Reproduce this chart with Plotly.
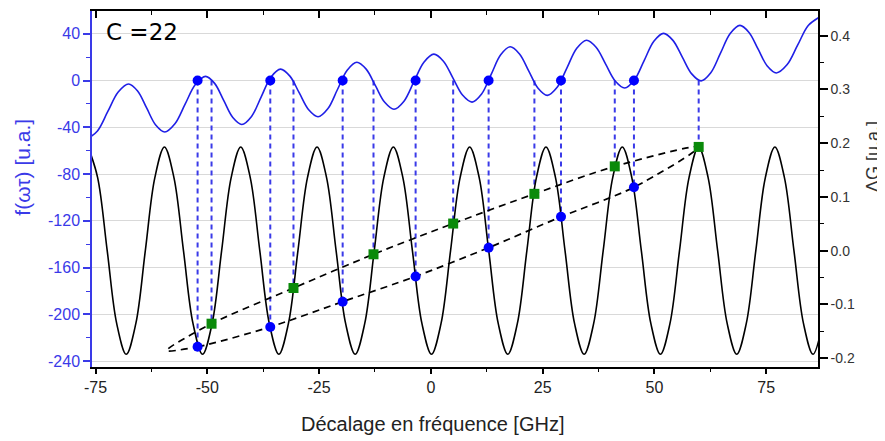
import plotly.graph_objects as go

# ---------------- data ----------------
# Black curve: Delta G (right axis), read at eighth-period positions
dg_x = [-76.67, -74.54, -72.40, -70.27, -68.14, -66.00, -63.87, -61.74,
        -59.60, -57.47, -55.34, -53.20, -51.07, -48.94, -46.80, -44.67,
        -42.53, -40.40, -38.27, -36.13, -34.00, -31.87, -29.73, -27.60,
        -25.46, -23.33, -21.20, -19.06, -16.93, -14.80, -12.66, -10.53,
        -8.39, -6.26, -4.13, -1.99, 0.14, 2.27, 4.41, 6.54,
        8.68, 10.81, 12.94, 15.08, 17.21, 19.34, 21.48, 23.61,
        25.75, 27.88, 30.01, 32.15, 34.28, 36.41, 38.55, 40.68,
        42.82, 44.95, 47.08, 49.22, 51.35, 53.48, 55.62, 57.75,
        59.89, 62.02, 64.15, 66.29, 68.42, 70.55, 72.69, 74.82,
        76.96, 79.09, 81.22, 83.36, 85.49, 87.62]
dg_y = [0.193, 0.136, 0.0, -0.136, -0.193, -0.136, 0.0, 0.136,
        0.193, 0.136, 0.0, -0.136, -0.193, -0.136, 0.0, 0.136,
        0.193, 0.136, 0.0, -0.136, -0.193, -0.136, 0.0, 0.136,
        0.193, 0.136, 0.0, -0.136, -0.193, -0.136, 0.0, 0.136,
        0.193, 0.136, 0.0, -0.136, -0.193, -0.136, 0.0, 0.136,
        0.193, 0.136, 0.0, -0.136, -0.193, -0.136, 0.0, 0.136,
        0.193, 0.136, 0.0, -0.136, -0.193, -0.136, 0.0, 0.136,
        0.193, 0.136, 0.0, -0.136, -0.193, -0.136, 0.0, 0.136,
        0.193, 0.136, 0.0, -0.136, -0.193, -0.136, 0.0, 0.136,
        0.193, 0.136, 0.0, -0.136, -0.193, -0.136]

# Blue curve: f(omega tau) (left axis)
f_x = [-76.90, -74.58, -72.26, -69.94,
       -67.62, -65.60, -63.58, -61.55,
       -59.53, -57.25, -54.97, -52.68,
       -50.40, -48.37, -46.34, -44.30,
       -42.27, -40.11, -37.95, -35.79,
       -33.63, -31.53, -29.43, -27.33,
       -25.23, -23.06, -20.89, -18.72,
       -16.55, -14.47, -12.40, -10.32,
       -8.24, -6.01, -3.79, -1.56,
       0.67, 2.81, 4.95, 7.08,
       9.22, 11.35, 13.49, 15.62,
       17.75, 19.83, 21.91, 23.98,
       26.06, 28.25, 30.45, 32.64,
       34.83, 36.96, 39.10, 41.23,
       43.36, 45.53, 47.71, 49.88,
       52.05, 54.15, 56.25, 58.35,
       60.45, 62.62, 64.79, 66.96,
       69.13, 71.17, 73.21, 75.24,
       77.28, 79.66, 82.04, 84.42,
       86.80]
f_y = [-50.0, -43.1, -26.45, -9.8,
       -2.9, -8.9, -23.45, -38.0,
       -44.0, -37.0, -20.2, -3.4,
       3.6, -2.4, -17.0, -31.6,
       -37.6, -30.7, -13.9, 2.9,
       9.8, 3.8, -10.6, -25.0,
       -31.0, -24.2, -7.65, 8.9,
       15.7, 9.8, -4.4, -18.6,
       -24.5, -17.6, -0.95, 15.7,
       22.6, 16.6, 2.1, -12.4,
       -18.4, -11.5, 5.25, 22.0,
       28.9, 22.8, 8.1, -6.6,
       -12.7, -5.8, 10.9, 27.6,
       34.5, 28.5, 14.1, -0.3,
       -6.3, 0.5, 17.05, 33.6,
       40.4, 34.4, 20.05, 5.7,
       -0.3, 6.65, 23.45, 40.25,
       47.2, 41.2, 26.85, 12.5,
       6.5, 13.45, 30.25, 47.05,
       54.0]

# Rising zero crossings of f (blue circles) and their Delta G values
circ_x = [-52.18, -35.92, -19.73, -3.41, 12.92, 29.11, 45.43]
circ_f = [0, 0, 0, 0, 0, 0, 0]
circ_dg = [-0.179, -0.142, -0.095, -0.048, 0.0055, 0.063, 0.118]

# Falling zero crossings of f (green squares) and their Delta G values
sq_x = [-49.06, -30.73, -12.83, 4.99, 23.16, 41.14, 59.91]
sq_f = [0, 0, 0, 0, 0, 0, 0]
sq_dg = [-0.136, -0.0696, -0.0068, 0.0504, 0.1057, 0.1568, 0.193]

# Left tip of the dashed loop
tip_x = -59.09
tip_dg = -0.186

# Axes
F_RANGE = [-245.0, 59.5]
DG_RANGE = [-0.2166, 0.446]
X_RANGE = [-75.8, 86.6]
x_ticks = [-75, -50, -25, 0, 25, 50, 75]
x_ticktext = ["-75", "-50", "-25", "0", "25", "50", "75"]
f_ticks = [40, 0, -40, -80, -120, -160, -200, -240]
f_ticktext = ["40", "0", "-40", "-80", "-120", "-160", "-200", "-240"]
dg_ticks = [0.4, 0.3, 0.2, 0.1, 0.0, -0.1, -0.2]
dg_ticktext = ["0.4", "0.3", "0.2", "0.1", "0.0", "-0.1", "-0.2"]

BLUE = "#1f1fe6"
AXBLUE = "#3a3ae8"
GREEN = "#0a8a0a"
FONT = "Liberation Sans, Arial, sans-serif"


def dg_to_f(v):
    return F_RANGE[0] + (v - DG_RANGE[0]) * (F_RANGE[1] - F_RANGE[0]) / (DG_RANGE[1] - DG_RANGE[0])


fig = go.Figure()

# Black Delta G curve
fig.add_trace(go.Scatter(x=dg_x, y=dg_y, yaxis="y2", mode="lines",
                         line=dict(color="black", width=1.6, shape="spline", smoothing=1.0),
                         hoverinfo="skip", showlegend=False))

# Dashed loop through circles and squares
loop_x = [tip_x] + circ_x + sq_x[::-1] + [tip_x]
loop_y = [tip_dg] + circ_dg + sq_dg[::-1] + [tip_dg]
fig.add_trace(go.Scatter(x=loop_x, y=loop_y, yaxis="y2", mode="lines",
                         line=dict(color="black", width=1.7, dash="7px,5px", shape="spline", smoothing=0.8),
                         hoverinfo="skip", showlegend=False))

# Blue dashed verticals (on left axis)
vx, vy = [], []
for xx, ff, gg in zip(circ_x + sq_x, circ_f + sq_f, circ_dg + sq_dg):
    vx += [xx, xx, None]
    vy += [ff, dg_to_f(gg), None]
fig.add_trace(go.Scatter(x=vx, y=vy, yaxis="y", mode="lines",
                         line=dict(color=AXBLUE, width=2, dash="5px,4px"),
                         hoverinfo="skip", showlegend=False))

# Blue f curve
fig.add_trace(go.Scatter(x=f_x, y=f_y, yaxis="y", mode="lines",
                         line=dict(color=BLUE, width=1.6, shape="spline", smoothing=1.0),
                         hoverinfo="skip", showlegend=False))

# Top circles at f = 0
fig.add_trace(go.Scatter(x=circ_x, y=circ_f, yaxis="y", mode="markers",
                         marker=dict(color="#0000ff", size=10, symbol="circle"),
                         hoverinfo="skip", showlegend=False))

# Bottom circles and squares on Delta G curve
fig.add_trace(go.Scatter(x=circ_x, y=circ_dg, yaxis="y2", mode="markers",
                         marker=dict(color="#0000ff", size=10, symbol="circle"),
                         hoverinfo="skip", showlegend=False))
fig.add_trace(go.Scatter(x=sq_x, y=sq_dg, yaxis="y2", mode="markers",
                         marker=dict(color=GREEN, size=10, symbol="square"),
                         hoverinfo="skip", showlegend=False))

# dummy trace for top axis
fig.add_trace(go.Scatter(x=[], y=[], xaxis="x2", yaxis="y", showlegend=False))

fig.update_layout(
    width=885, height=441,
    margin=dict(l=84, r=75, t=3, b=82, autoexpand=False),
    paper_bgcolor="white", plot_bgcolor="white",
    font=dict(family=FONT, size=16, color="#222"),
    xaxis=dict(range=X_RANGE, tickmode="array", tickvals=x_ticks, ticktext=x_ticktext,
               automargin=False,
               ticks="outside", ticklen=5, tickwidth=1.5, tickcolor="black",
               minor=dict(ticks="outside", ticklen=3, tickwidth=1.2, tickcolor="black",
                          tickmode="linear", tick0=-75, dtick=12.5),
               showline=True, linecolor="black", linewidth=1.5,
               showgrid=False, zeroline=False,
               tickfont=dict(size=16, color="#222")),
    xaxis2=dict(range=X_RANGE, overlaying="x", side="top", anchor="y", automargin=False,
                tickmode="array", tickvals=x_ticks, showticklabels=False,
                ticks="inside", ticklen=7, tickwidth=1.5, tickcolor="black",
                minor=dict(ticks="inside", ticklen=4, tickwidth=1.2, tickcolor="black",
                           tickmode="linear", tick0=-75, dtick=12.5),
                showline=True, linecolor="black", linewidth=1.5,
                showgrid=False, zeroline=False),
    yaxis=dict(range=F_RANGE, tickmode="array", tickvals=f_ticks, ticktext=f_ticktext,
               automargin=False,
               ticks="outside", ticklen=7, tickwidth=1.5, tickcolor=AXBLUE,
               minor=dict(ticks="outside", ticklen=4, tickwidth=1.2, tickcolor=AXBLUE,
                          tickmode="linear", tick0=0, dtick=20, showgrid=False),
               showline=True, linecolor=AXBLUE, linewidth=1.5,
               showgrid=True, gridcolor="#d9d9d9", gridwidth=1, zeroline=False,
               tickfont=dict(size=16, color=AXBLUE)),
    yaxis2=dict(range=DG_RANGE, overlaying="y", side="right", anchor="x", automargin=False,
                tickmode="array", tickvals=dg_ticks, ticktext=dg_ticktext,
                ticks="outside", ticklen=8, tickwidth=1.5, tickcolor="black",
                minor=dict(ticks="outside", ticklen=4, tickwidth=1.2, tickcolor="black",
                           tickmode="linear", tick0=0, dtick=0.05),
                showline=True, linecolor="black", linewidth=1.5,
                showgrid=False, zeroline=False,
                tickfont=dict(size=14, color="#333")),
    annotations=[
        dict(text="C =22", xref="paper", yref="paper", x=0.016, y=0.94,
             xanchor="left", yanchor="middle", showarrow=False,
             font=dict(size=23, color="black", family="DejaVu Sans, Open Sans, sans-serif")),
        dict(text="Décalage en fréquence [GHz]", xref="paper", yref="paper", x=0.47, y=-0.16,
             xanchor="center", yanchor="middle", showarrow=False,
             font=dict(size=20, color="#222")),
        dict(text="f(ωτ) [u.a.]", xref="paper", yref="paper", x=-0.095, y=0.56,
             xanchor="center", yanchor="middle", textangle=-90, showarrow=False,
             font=dict(size=21, color=AXBLUE)),
        dict(text="ΔG [u.a.]", xref="paper", yref="paper", x=1.076, y=0.59,
             xanchor="center", yanchor="middle", textangle=-90, showarrow=False,
             font=dict(size=18, color="#333")),
    ],
)

fig.write_html("out.html")
